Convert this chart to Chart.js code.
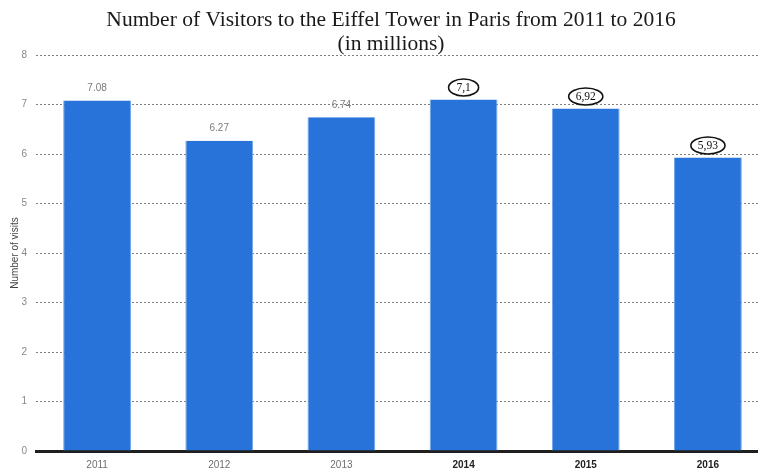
<!DOCTYPE html>
<html>
<head>
<meta charset="utf-8">
<script src="https://cdn.jsdelivr.net/npm/chart.js@4/dist/chart.umd.min.js"></script>
<style>
  html, body { margin: 0; padding: 0; background: #fff; overflow: hidden; }
  #wrap { width: 769px; height: 472px; }
</style>
</head>
<body>
<div id="wrap"><canvas id="visitsChart"></canvas></div>
<script>
const years = ['2011', '2012', '2013', '2014', '2015', '2016'];
const visitors = [7.08, 6.27, 6.74, 7.1, 6.92, 5.93];
const circled = [false, false, false, true, true, true];
const yTicks = [0, 1, 2, 3, 4, 5, 6, 7, 8];
const titleLines = [
  'Number of Visitors to the Eiffel Tower in Paris from 2011 to 2016',
  '(in millions)'
];

const barBlue = '#2873da';

// two-line serif heading, sits partly over the top gridline
const headingPlugin = {
  id: 'heading',
  afterDraw(chart) {
    const { ctx } = chart;
    ctx.save();
    ctx.fillStyle = '#1a1a1a';
    ctx.font = '21.5px "Liberation Serif", "Times New Roman", serif';
    ctx.textAlign = 'center';
    ctx.textBaseline = 'middle';
    ctx.fillText(titleLines[0], 391, 20);
    ctx.fillText(titleLines[1], 391, 44);
    ctx.restore();
  }
};

// value above each bar; the newer years get a hand-drawn style ellipse
const valueLabelPlugin = {
  id: 'valueLabels',
  afterDatasetsDraw(chart) {
    const { ctx } = chart;
    const meta = chart.getDatasetMeta(0);
    ctx.save();
    ctx.textAlign = 'center';
    ctx.textBaseline = 'middle';
    meta.data.forEach((bar, index) => {
      const value = visitors[index];
      const cy = bar.y - 12;
      if (circled[index]) {
        const text = String(value).replace('.', ',');
        ctx.font = '11.5px "Liberation Serif", serif';
        const rx = Math.max(15, ctx.measureText(text).width / 2 + 7);
        ctx.beginPath();
        ctx.ellipse(bar.x, cy, rx, 8.5, 0, 0, Math.PI * 2);
        ctx.fillStyle = '#fff';
        ctx.fill();
        ctx.lineWidth = 1.6;
        ctx.strokeStyle = '#111';
        ctx.stroke();
        ctx.fillStyle = '#111';
        ctx.fillText(text, bar.x, cy + 0.5);
      } else {
        ctx.font = '10px "Liberation Sans", Arial, sans-serif';
        ctx.fillStyle = '#7a7a7a';
        ctx.fillText(value.toFixed(2), bar.x, cy);
      }
    });
    ctx.restore();
  }
};

document.addEventListener('DOMContentLoaded', () => {
  const canvas = document.getElementById('visitsChart');

  new Chart(canvas, {
    type: 'bar',
    data: {
      labels: years,
      datasets: [
        {
          label: 'Number of visits',
          data: visitors,
          backgroundColor: barBlue,
          borderColor: '#6fa6ec',
          borderWidth: { left: 1, right: 1, top: 0, bottom: 0 },
          borderSkipped: false,
          barPercentage: 0.555,
          categoryPercentage: 1
        }
      ]
    },
    options: {
      responsive: true,
      maintainAspectRatio: false,
      animation: false,
      layout: {
        padding: { top: 55, left: 0, right: 0, bottom: 0 }
      },
      plugins: {
        legend: { display: false },
        tooltip: { enabled: false }
      },
      scales: {
        x: {
          z: 1,
          grid: { display: false, drawTicks: false },
          border: { display: true, color: '#1f1f1f', width: 3 },
          ticks: {
            padding: 8,
            color: (ctx) => (circled[ctx.index] ? '#222' : '#6e6e6e'),
            font: (ctx) => ({
              family: '"Liberation Sans", Arial, sans-serif',
              size: 10,
              weight: circled[ctx.index] ? 'bold' : 'normal'
            })
          },
          afterFit: (scale) => {
            scale.height = 21;
          }
        },
        y: {
          min: yTicks[0],
          max: yTicks[yTicks.length - 1],
          afterBuildTicks: (scale) => {
            scale.ticks = yTicks.map((value) => ({ value }));
          },
          grid: {
            color: '#808080',
            lineWidth: 1,
            drawTicks: false
          },
          border: { display: false, dash: [2, 2] },
          ticks: {
            padding: 9,
            color: '#888',
            font: { family: '"Liberation Sans", Arial, sans-serif', size: 10 }
          },
          title: {
            display: true,
            text: 'Number of visits',
            color: '#444',
            padding: { top: 9, bottom: 0 },
            font: { family: '"Liberation Sans", Arial, sans-serif', size: 10 }
          },
          afterFit: (scale) => {
            scale.width = 36;
          }
        }
      }
    },
    plugins: [valueLabelPlugin, headingPlugin]
  });
});
</script>
</body>
</html>
